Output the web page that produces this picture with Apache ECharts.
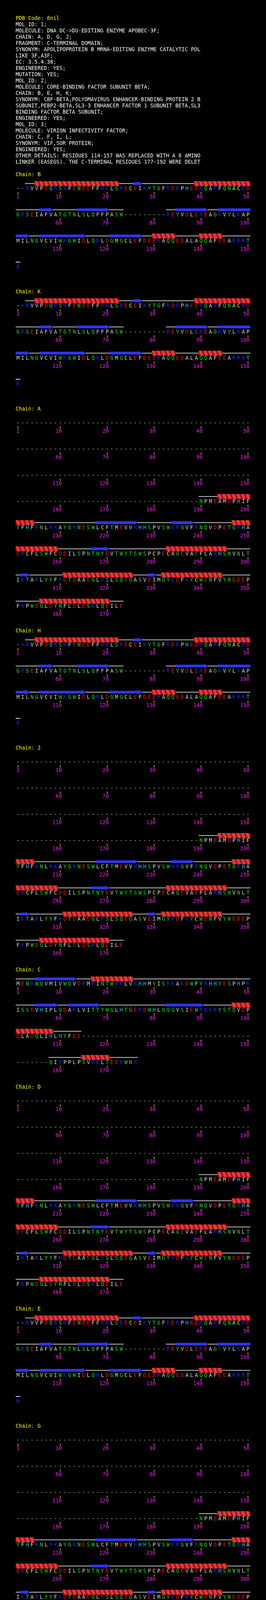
<!DOCTYPE html>
<html>
<head>
<meta charset="utf-8">
<script src="https://cdn.jsdelivr.net/npm/echarts@6/dist/echarts.min.js"></script>
<style>
  html, body { margin: 0; padding: 0; background: #000; }
  #page { width: 680px; }
  #page div.slice { width: 680px; }
</style>
</head>
<body>
<div id="page"></div>
<script>
'use strict';

// ---- header text ----
var HEADER_TITLE = 'PDB Code: 6nil';
var HEADER_LINES = [
  'MOL_ID: 1;',
  'MOLECULE: DNA DC->DU-EDITING ENZYME APOBEC-3F;',
  'CHAIN: A, D, G, J;',
  'FRAGMENT: C-TERMINAL DOMAIN;',
  'SYNONYM: APOLIPOPROTEIN B MRNA-EDITING ENZYME CATALYTIC POL',
  'LIKE 3F,A3F;',
  'EC: 3.5.4.38;',
  'ENGINEERED: YES;',
  'MUTATION: YES;',
  'MOL_ID: 2;',
  'MOLECULE: CORE-BINDING FACTOR SUBUNIT BETA;',
  'CHAIN: B, E, H, K;',
  'SYNONYM: CBF-BETA,POLYOMAVIRUS ENHANCER-BINDING PROTEIN 2 B',
  'SUBUNIT,PEBP2-BETA,SL3-3 ENHANCER FACTOR 1 SUBUNIT BETA,SL3',
  'BINDING FACTOR BETA SUBUNIT;',
  'ENGINEERED: YES;',
  'MOL_ID: 3;',
  'MOLECULE: VIRION INFECTIVITY FACTOR;',
  'CHAIN: C, F, I, L;',
  'SYNONYM: VIF,SOR PROTEIN;',
  'ENGINEERED: YES;',
  'OTHER_DETAILS: RESIDUES 114-157 WAS REPLACED WITH A 6 AMINO',
  'LINKER (EASEGS). THE C-TERMINAL RESIDUES 177-192 WERE DELET'
];

// ---- chains, in page order ----
var CHAIN_IDS  = ['B', 'K', 'A', 'H', 'J', 'C', 'D', 'E', 'G', 'F', 'L', 'I'];
var CHAIN_KIND = ['cbfb', 'cbfb', 'a3f', 'cbfb', 'a3f', 'vif', 'a3f', 'cbfb', 'a3f', 'vif', 'vif', 'vif'];

// sequences, 50 residues per row, '-' = not observed
var CBFB_ROWS = [
  '--RVVPDQRSKFENEEFFRKLSRECEIKYTGFRDRPHEERQARFQNACRD',
  'GRSEIAFVATGTNLSLQFFPASW---------REYVDLEREAGKVYLKAP',
  'MILNGVCVIWKGWIDLQRLDGMGCLEFDEERAQQEDALAQQAFEEARRRT',
  'R'
];
var CBFB_HELIX  = [[5, 22], [39, 50], [130, 134], [140, 144]];
var CBFB_STRAND = [[26, 27], [56, 58], [64, 70], [85, 91], [94, 103], [106, 115], [121, 127]];

var A3F_ROWS = [
  '-'.repeat(50),
  '-'.repeat(50),
  '-'.repeat(50),
  '-'.repeat(39) + 'NPMEAMDPHIF',
  'YFHFKNLRKAYGRNESWLCFTMEVVKHHSPVSWKRGVFRNQVDPETGRHA',
  'ERCFLSWFCDDILSPNTNYEVTWYTSWSPCPECAGEVAEFLARHSNVNLT',
  'IKTARLYYFKDTDAAEGLRSLSQEGASVEIMGYKDFKYCWENFVYNDDEP',
  'FKPWDGLDYNFLDLDSKLQEILE'
];
var A3F_HELIX  = [[194, 204], [247, 259], [283, 295], [311, 325], [332, 344], [356, 370]];
var A3F_STRAND = [[218, 226], [234, 238], [267, 270], [302, 303], [329, 330]];

var VIF_ROWS = [
  'MENRWQVMIVWQVDRMRINTWKRLVKHHMYISRKAKDWFYRHHYESPHPR',
  'ISSEVHIPLGDAKLVITTYWGLHTGERDWHLGQGVSIEWRKKRYSTQVDP',
  'DLADQLIHLHYFDE' + '-'.repeat(36),
  '-'.repeat(7) + 'QIKPPLPSVRKLTEDRWNK'
];
var VIF_HELIX  = [[17, 25], [97, 108], [165, 170]];
var VIF_STRAND = [[5, 13], [55, 59], [62, 68], [83, 90]];

var KINDS = {
  cbfb: { rows: CBFB_ROWS, helix: CBFB_HELIX, strand: CBFB_STRAND },
  a3f:  { rows: A3F_ROWS,  helix: A3F_HELIX,  strand: A3F_STRAND },
  vif:  { rows: VIF_ROWS,  helix: VIF_HELIX,  strand: VIF_STRAND }
};

// residue colouring
var RES_COLOR = {
  R: '#2626f2', K: '#2626f2', H: '#16c6fa',
  D: '#f01616', E: '#f01616',
  S: '#1ee01e', T: '#1ee01e', N: '#1ee01e', Q: '#1ee01e', G: '#1ee01e', Y: '#1ee01e', W: '#1ee01e',
  C: '#f4f416', '-': '#cfcfcf'
};
var RES_DEFAULT = '#d8d8d8';

// ---- page layout (y in page pixels, x in residue columns) ----
var PAGE_H = 5120;
var PER_ROW = 50;
var HEADER_Y = 48, LINE_STEP = 16;
var FIRST_CHAIN_Y = 448, ROW_OFFSET = 36, ROW_STEP = 67, BLOCK_GAP = 32;
var SS_OFF = -14, TICK_TOP = 7.5, TICK_BOT = 12.7, NUM_OFF = 21;
var FONT = '"DejaVu Sans Mono", monospace';
var FONT_SIZE = 13.3;

var textItems = [], lineItems = [], helixItems = [], strandItems = [],
    resItems = [], tickItems = [];
var cuts = [0];

textItems.push([HEADER_Y, HEADER_TITLE, '#ffff00']);
HEADER_LINES.forEach(function (t, i) {
  textItems.push([HEADER_Y + (i + 1) * LINE_STEP, t, '#ffffff']);
});

function addSegments(segs, first, last, y, target) {
  segs.forEach(function (s) {
    var a = Math.max(s[0], first), b = Math.min(s[1], last);
    if (a > b) return;
    target.push([a - first + 1, b - first + 1, y, s[1] <= last ? 1 : 0]);
  });
}

var labelY = FIRST_CHAIN_Y;
CHAIN_IDS.forEach(function (id, k) {
  var kind = KINDS[CHAIN_KIND[k]];
  cuts.push(labelY - 20);
  textItems.push([labelY, 'Chain: ' + id, '#ffff00']);
  kind.rows.forEach(function (row, r) {
    var y = labelY + ROW_OFFSET + r * ROW_STEP;
    var first = r * PER_ROW + 1, last = first + PER_ROW - 1;
    // backbone runs over observed residues
    var runStart = -1;
    for (var c = 1; c <= row.length + 1; c++) {
      var seen = c <= row.length && row.charAt(c - 1) !== '-';
      if (seen && runStart < 0) runStart = c;
      if (!seen && runStart > 0) { lineItems.push([runStart, c - 1, y + SS_OFF]); runStart = -1; }
    }
    addSegments(kind.helix, first, last, y + SS_OFF, helixItems);
    addSegments(kind.strand, first, last, y + SS_OFF, strandItems);
    for (var j = 1; j <= row.length; j++) {
      resItems.push([j, y, row.charAt(j - 1)]);
      var n = first + j - 1;
      if (n === 1 || n % 10 === 0) tickItems.push([j, y, String(n)]);
    }
  });
  labelY += BLOCK_GAP + ROW_STEP * kind.rows.length;
});
cuts.push(PAGE_H);

// ---- render functions (one factory per mark kind) ----
function textRenderer(list) {
  return function (params, api) {
    var d = list[params.dataIndex];
    var p = api.coord([0.5, d[0]]);
    return { type: 'text', x: p[0], y: p[1],
      style: { text: d[1], fill: d[2], fontSize: FONT_SIZE, fontFamily: FONT, align: 'left', verticalAlign: 'middle' } };
  };
}

function lineRenderer(list) {
  return function (params, api) {
    var d = list[params.dataIndex];
    var a = api.coord([d[0] - 0.5, d[2]]), b = api.coord([d[1] + 0.5, d[2]]);
    return { type: 'line', shape: { x1: a[0], y1: a[1], x2: b[0], y2: b[1] },
      style: { stroke: '#ffffff', lineWidth: 1.7 } };
  };
}

function helixRenderer(list) {
  return function (params, api) {
    var d = list[params.dataIndex];
    var a = api.coord([d[0] - 0.5, d[2]]), b = api.coord([d[1] + 0.5, d[2]]);
    var cell = api.size([1, 0])[0];
    var top = a[1] - 6.3, bot = a[1] + 6.3;
    var kids = [{ type: 'rect', shape: { x: a[0], y: top, width: b[0] - a[0], height: bot - top },
      style: { fill: '#8c1e1e' } }];
    for (var x = a[0]; x < b[0] - 1; x += cell) {
      kids.push({ type: 'polygon',
        shape: { points: [[x, top], [x + cell * 0.58, top], [x + cell, bot], [x + cell * 0.42, bot]] },
        style: { fill: '#ff3636' } });
    }
    return { type: 'group', children: kids };
  };
}

function strandRenderer(list) {
  return function (params, api) {
    var d = list[params.dataIndex];
    var a = api.coord([d[0] - 0.5, d[2]]), b = api.coord([d[1] + 0.5, d[2]]);
    var y = a[1], h = 3.4, hh = 5.6, head = 10;
    var pts = d[3]
      ? [[a[0], y - h], [b[0] - head, y - h], [b[0] - head, y - hh], [b[0], y],
         [b[0] - head, y + hh], [b[0] - head, y + h], [a[0], y + h]]
      : [[a[0], y - h], [b[0], y - h], [b[0], y + h], [a[0], y + h]];
    return { type: 'polygon', shape: { points: pts }, style: { fill: '#3035f8' } };
  };
}

function residueRenderer(list) {
  return function (params, api) {
    var d = list[params.dataIndex];
    var p = api.coord([d[0], d[1]]);
    return { type: 'text', x: p[0], y: p[1],
      style: { text: d[2], fill: RES_COLOR[d[2]] || RES_DEFAULT, fontSize: FONT_SIZE, fontFamily: FONT,
        align: 'center', verticalAlign: 'middle' } };
  };
}

function tickRenderer(list) {
  return function (params, api) {
    var d = list[params.dataIndex];
    var p = api.coord([d[0], d[1]]);
    return { type: 'group', children: [
      { type: 'line', shape: { x1: p[0], y1: p[1] + TICK_TOP, x2: p[0], y2: p[1] + TICK_BOT },
        style: { stroke: '#e8e810', lineWidth: 1.5 } },
      { type: 'text', x: p[0] + 4, y: p[1] + NUM_OFF,
        style: { text: d[2], fill: '#f020f0', fontSize: FONT_SIZE, fontFamily: FONT,
          align: 'right', verticalAlign: 'middle' } }
    ] };
  };
}

// one chart per page slice (header, then one per chain) to keep canvases small
function inSlice(list, yi, y0, y1) {
  return list.filter(function (d) { return d[yi] >= y0 && d[yi] < y1; });
}

function customSeries(name, list, xi, yi, factory, z) {
  return { type: 'custom', name: name, renderItem: factory(list), z: z, clip: false,
    data: list.map(function (d) { return [xi < 0 ? 0.5 : d[xi], d[yi]]; }) };
}

var page = document.getElementById('page');
for (var s = 0; s < cuts.length - 1; s++) {
  var y0 = cuts[s], y1 = cuts[s + 1];
  var div = document.createElement('div');
  div.className = 'slice';
  div.style.height = (y1 - y0) + 'px';
  page.appendChild(div);

  var chart = echarts.init(div, null, { width: 680, height: y1 - y0, renderer: 'canvas' });
  chart.setOption({
    backgroundColor: '#000000',
    animation: false,
    grid: { left: 40, top: 0, width: 600, height: y1 - y0 },
    xAxis: { type: 'value', min: 0.5, max: 50.5, show: false },
    yAxis: { type: 'value', min: y0, max: y1, inverse: true, show: false },
    series: [
      customSeries('text', inSlice(textItems, 0, y0, y1), -1, 0, textRenderer, 1),
      customSeries('backbone', inSlice(lineItems, 2, y0, y1), 0, 2, lineRenderer, 2),
      customSeries('helix', inSlice(helixItems, 2, y0, y1), 0, 2, helixRenderer, 3),
      customSeries('strand', inSlice(strandItems, 2, y0, y1), 0, 2, strandRenderer, 3),
      customSeries('residues', inSlice(resItems, 1, y0, y1), 0, 1, residueRenderer, 4),
      customSeries('ticks', inSlice(tickItems, 1, y0, y1), 0, 1, tickRenderer, 4)
    ]
  });
}
</script>
</body>
</html>
